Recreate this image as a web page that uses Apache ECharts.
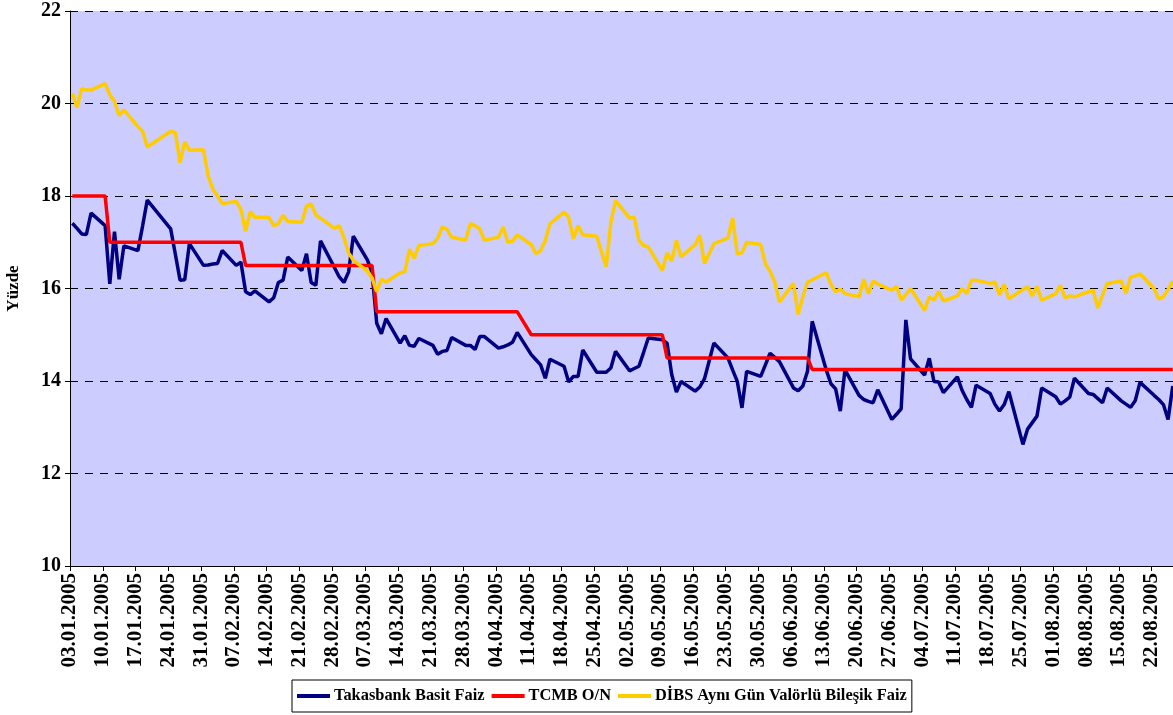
<!DOCTYPE html>
<html>
<head>
<meta charset="UTF-8">
<title>Faiz oranları 2005</title>
<script src="https://cdn.jsdelivr.net/npm/echarts@6/dist/echarts.min.js"></script>
<style>
  html, body { margin: 0; padding: 0; background: #fff; }
  #main { width: 1173px; height: 715px; }
</style>
</head>
<body>
<div id="main"></div>
<script>
// haftalik eksen etiketleri (pazartesi gunleri)
var weekLabels = ['03.01.2005', '10.01.2005', '17.01.2005', '24.01.2005', '31.01.2005', '07.02.2005',
    '14.02.2005', '21.02.2005', '28.02.2005', '07.03.2005', '14.03.2005', '21.03.2005', '28.03.2005',
    '04.04.2005', '11.04.2005', '18.04.2005', '25.04.2005', '02.05.2005', '09.05.2005', '16.05.2005',
    '23.05.2005', '30.05.2005', '06.06.2005', '13.06.2005', '20.06.2005', '27.06.2005', '04.07.2005',
    '11.07.2005', '18.07.2005', '25.07.2005', '01.08.2005', '08.08.2005', '15.08.2005', '22.08.2005'];
// veri olmayan resmi tatiller
var holidays = ['20.01.2005', '21.01.2005', '19.05.2005'];

// Takasbank Basit Faiz (her satir bir hafta)
var takasbank = [
    17.41, 17.30, 17.18, 17.17, 17.63,
    17.36, 16.10, 17.23, 16.20, 16.92,
    16.82, 17.35, 17.91,
    17.29, 16.74, 16.18, 16.19, 16.97,
    16.50, 16.51, 16.53, 16.54, 16.82,
    16.50, 16.57, 15.93, 15.87, 15.95,
    15.71, 15.80, 16.13, 16.18, 16.68,
    16.39, 16.75, 16.13, 16.07, 17.03,
    16.45, 16.25, 16.13, 16.36, 17.13,
    16.62, 16.35, 15.25, 15.02, 15.35,
    14.82, 14.98, 14.77, 14.75, 14.92,
    14.77, 14.58, 14.64, 14.66, 14.94,
    14.77, 14.77, 14.68, 14.96, 14.96,
    14.71, 14.74, 14.78, 14.84, 15.05,
    14.57, 14.46, 14.35, 14.06, 14.47,
    14.32, 13.98, 14.10, 14.10, 14.67,
    14.19, 14.19, 14.19, 14.28, 14.64,
    14.22, 14.27, 14.32, 14.62, 14.93,
    14.89, 14.82, 14.14, 13.76, 13.99,
    13.78, 13.87, 14.05, 14.82,
    14.50, 14.24, 13.99, 13.42, 14.21,
    14.10, 14.35, 14.60, 14.51, 14.42,
    13.85, 13.79, 13.89, 14.21, 15.29,
    14.24, 13.94, 13.83, 13.35, 14.24,
    13.69, 13.60, 13.56, 13.53, 13.81,
    13.17, 13.28, 13.40, 15.32, 14.48,
    14.13, 14.49, 13.99, 13.98, 13.75,
    14.09, 13.80, 13.60, 13.43, 13.91,
    13.73, 13.50, 13.35, 13.49, 13.77,
    12.63, 12.96, 13.10, 13.24, 13.85,
    13.66, 13.50, 13.57, 13.65, 14.06,
    13.73, 13.71, 13.62, 13.53, 13.85,
    13.57, 13.50, 13.43, 13.58, 13.97,
    13.69, 13.60, 13.49, 13.17, 13.89
];

// TCMB O/N
var tcmb = [
    18, 18, 18, 18, 18,
    18, 17, 17, 17, 17,
    17, 17, 17,
    17, 17, 17, 17, 17,
    17, 17, 17, 17, 17,
    17, 17, 16.5, 16.5, 16.5,
    16.5, 16.5, 16.5, 16.5, 16.5,
    16.5, 16.5, 16.5, 16.5, 16.5,
    16.5, 16.5, 16.5, 16.5, 16.5,
    16.5, 16.5, 15.5, 15.5, 15.5,
    15.5, 15.5, 15.5, 15.5, 15.5,
    15.5, 15.5, 15.5, 15.5, 15.5,
    15.5, 15.5, 15.5, 15.5, 15.5,
    15.5, 15.5, 15.5, 15.5, 15.5,
    15, 15, 15, 15, 15,
    15, 15, 15, 15, 15,
    15, 15, 15, 15, 15,
    15, 15, 15, 15, 15,
    15, 14.5, 14.5, 14.5, 14.5,
    14.5, 14.5, 14.5, 14.5,
    14.5, 14.5, 14.5, 14.5, 14.5,
    14.5, 14.5, 14.5, 14.5, 14.5,
    14.5, 14.5, 14.5, 14.5, 14.25,
    14.25, 14.25, 14.25, 14.25, 14.25,
    14.25, 14.25, 14.25, 14.25, 14.25,
    14.25, 14.25, 14.25, 14.25, 14.25,
    14.25, 14.25, 14.25, 14.25, 14.25,
    14.25, 14.25, 14.25, 14.25, 14.25,
    14.25, 14.25, 14.25, 14.25, 14.25,
    14.25, 14.25, 14.25, 14.25, 14.25,
    14.25, 14.25, 14.25, 14.25, 14.25,
    14.25, 14.25, 14.25, 14.25, 14.25,
    14.25, 14.25, 14.25, 14.25, 14.25,
    14.25, 14.25, 14.25, 14.25, 14.25
];

// DIBS Ayni Gun Valorlu Bilesik Faiz
var dibs = [
    20.22, 19.91, 20.32, 20.29, 20.29,
    20.43, 20.19, 20.05, 19.74, 19.86,
    19.50, 19.40, 19.06,
    19.40, 19.37, 18.72, 19.17, 18.99,
    19.00, 18.44, 18.15, 18.00, 17.84,
    17.88, 17.71, 17.24, 17.66, 17.54,
    17.54, 17.36, 17.40, 17.58, 17.45,
    17.43, 17.78, 17.83, 17.59, 17.52,
    17.30, 17.36, 17.10, 16.77, 16.61,
    16.38, 16.23, 15.93, 16.20, 16.14,
    16.34, 16.36, 16.85, 16.65, 16.93,
    16.97, 17.08, 17.33, 17.28, 17.11,
    17.05, 17.40, 17.36, 17.29, 17.04,
    17.11, 17.33, 17.00, 17.02, 17.16,
    16.95, 16.75, 16.82, 17.04, 17.40,
    17.65, 17.54, 17.08, 17.36, 17.16,
    17.13, 16.79, 16.47, 17.43, 17.90,
    17.52, 17.54, 17.04, 16.93, 16.90,
    16.39, 16.77, 16.59, 17.04, 16.68,
    16.95, 17.15, 16.54, 16.97,
    17.09, 17.52, 16.75, 16.77, 17.00,
    16.95, 16.54, 16.37, 16.14, 15.71,
    16.11, 15.44, 15.82, 16.14, 16.19,
    16.34, 16.09, 15.93, 15.99, 15.89,
    15.82, 16.20, 15.89, 16.16, 16.10,
    15.96, 16.05, 15.75, 15.87, 16.00,
    15.53, 15.82, 15.75, 15.94, 15.73,
    15.84, 16.00, 15.89, 16.18, 16.18,
    16.11, 16.14, 15.86, 16.09, 15.78,
    15.98, 16.04, 15.84, 16.04, 15.75,
    15.89, 16.07, 15.80, 15.84, 15.82,
    15.93, 15.96, 15.58, 15.86, 16.11,
    16.16, 15.89, 16.25, 16.27, 16.32,
    16.00, 15.77, 15.82, 15.98, 16.16
];

var DAY = 86400000;
function parseDate(s) {
    var p = s.split('.');
    return Date.UTC(+p[2], +p[1] - 1, +p[0]);
}
function fmtDate(t) {
    var d = new Date(t);
    var dd = ('0' + d.getUTCDate()).slice(-2), mm = ('0' + (d.getUTCMonth() + 1)).slice(-2);
    return dd + '.' + mm + '.' + d.getUTCFullYear();
}

// is gunleri: her haftanin pazartesi-cuma gunleri, tatiller haric
var t0 = parseDate(weekLabels[0]);
var days = [];
weekLabels.forEach(function (w) {
    for (var k = 0; k < 5; k++) {
        var t = parseDate(w) + k * DAY;
        if (holidays.indexOf(fmtDate(t)) < 0) days.push(t);
    }
});
// tarih ekseninde her nokta gunun ortasinda durur
function toSeries(values) {
    return days.map(function (t, i) { return [(t - t0) / DAY + 0.5, values[i]]; });
}

var fontFam = '"Liberation Serif", "Times New Roman", serif';
var chart = echarts.init(document.getElementById('main'));
var option = {
    animation: false,
    backgroundColor: '#ffffff',
    grid: {
        left: 70, right: 0, top: 11, bottom: 149,
        show: true, backgroundColor: '#CCCCFF', borderWidth: 0,
        containLabel: false, outerBoundsMode: 'none'
    },
    legend: {
        left: 292, top: 680,
        orient: 'horizontal',
        icon: 'rect',
        itemWidth: 33, itemHeight: 4, itemGap: 7,
        padding: [8, 5, 8, 5],
        borderColor: '#000', borderWidth: 1,
        textStyle: { fontFamily: fontFam, fontWeight: 'bold', fontSize: 16.4, color: '#000', padding: [0, 0, 0, -1] },
        data: ['Takasbank Basit Faiz', 'TCMB O/N', 'DİBS Aynı Gün Valörlü Bileşik Faiz']
    },
    xAxis: {
        type: 'value',
        min: 0, max: 235.55, interval: 7,
        axisLine: { show: true, onZero: false, lineStyle: { color: '#000', width: 1 } },
        axisTick: { show: true, inside: false, length: 5, lineStyle: { color: '#000' } },
        splitLine: { show: false },
        axisLabel: {
            rotate: 90, margin: 7, showMaxLabel: false,
            fontFamily: fontFam, fontWeight: 'bold', fontSize: 21, color: '#000',
            formatter: function (v) { return v % 7 === 0 ? (weekLabels[v / 7] || '') : ''; }
        }
    },
    yAxis: {
        type: 'value',
        min: 10, max: 22, interval: 2,
        name: 'Yüzde', nameLocation: 'middle', nameGap: 48, nameRotate: 90,
        nameTextStyle: { fontFamily: fontFam, fontWeight: 'bold', fontSize: 17, color: '#000' },
        axisLine: { show: true, lineStyle: { color: '#000', width: 1 } },
        axisTick: { show: true, inside: false, length: 5, lineStyle: { color: '#000' } },
        splitLine: { show: true, lineStyle: { color: '#000', width: 1, type: [8, 7] } },
        axisLabel: { margin: 9, fontFamily: fontFam, fontWeight: 'bold', fontSize: 20, color: '#000' }
    },
    series: [
        {
            name: 'Takasbank Basit Faiz', type: 'line', data: toSeries(takasbank),
            showSymbol: false, symbol: 'none',
            lineStyle: { color: '#000080', width: 3.5 }, itemStyle: { color: '#000080' }
        },
        {
            name: 'TCMB O/N', type: 'line', data: toSeries(tcmb),
            showSymbol: false, symbol: 'none',
            lineStyle: { color: '#FF0000', width: 3.5 }, itemStyle: { color: '#FF0000' }
        },
        {
            name: 'DİBS Aynı Gün Valörlü Bileşik Faiz', type: 'line', data: toSeries(dibs),
            showSymbol: false, symbol: 'none',
            lineStyle: { color: '#FFCC00', width: 3.5 }, itemStyle: { color: '#FFCC00' }
        }
    ]
};
chart.setOption(option);
</script>
</body>
</html>
